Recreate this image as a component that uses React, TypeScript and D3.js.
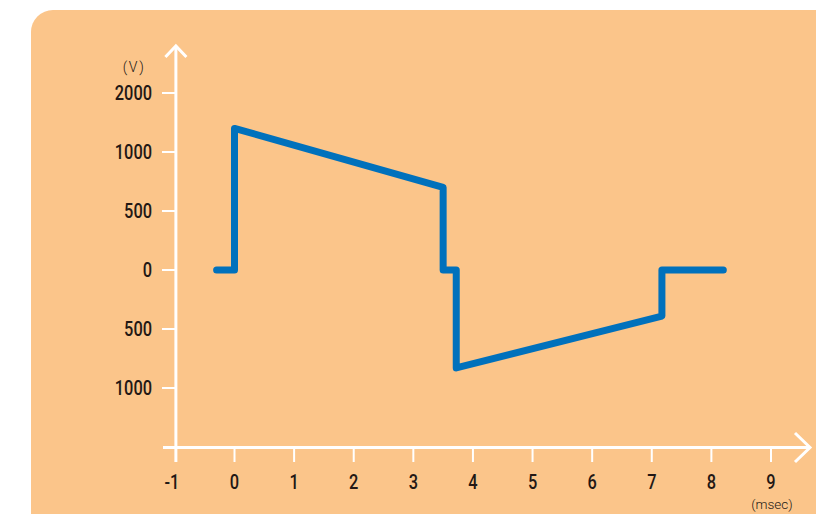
import React from "react";
import * as d3 from "d3";

const yTickValues = [2000, 1000, 500, 0, -500, -1000];
const yTickLabels = ["2000", "1000", "500", "0", "500", "1000"];
const xTickValues = [-1, 0, 1, 2, 3, 4, 5, 6, 7, 8, 9];
const xTickLabels = ["-1", "0", "1", "2", "3", "4", "5", "6", "7", "8", "9"];
const timeMs = [-0.3, 0, 0, 3.5, 3.5, 3.72, 3.72, 7.17, 7.17, 8.2];
const voltage = [0, 0, 1400, 700, 0, 0, -830, -390, 0, 0];

const W = 816;
const H = 514;

export default function App() {
  const x = d3.scaleLinear().domain([0, 9]).range([234.5, 771]);
  // piecewise (non-linear) voltage axis: ticks evenly spaced
  const y = d3
    .scaleLinear()
    .domain(yTickValues)
    .range(yTickValues.map((_, i) => 93 + i * 59));

  const line = d3
    .line<number>()
    .x((_, i) => x(timeMs[i]))
    .y((v) => y(v));

  const axisX = x(-1) + 1;
  const axisY = 447.5;
  const font = "Roboto, 'Noto Sans', sans-serif";
  const sx = 0.84;

  return (
    <svg
      width={W}
      height={H}
      style={{ position: "absolute", left: 0, top: 0 }}
      viewBox={`0 0 ${W} ${H}`}
    >
      <rect x={0} y={0} width={W} height={H} fill="#ffffff" />
      <rect x={31} y={10} width={W} height={H + 40} rx={22} fill="#FBC58A" />

      {/* y axis */}
      <line x1={axisX} x2={axisX} y1={46} y2={462} stroke="#fff" strokeWidth={3} />
      <polyline
        points={`${axisX - 10.5},57 ${axisX},46 ${axisX + 10.5},57`}
        fill="none"
        stroke="#fff"
        strokeWidth={3}
      />
      {yTickValues.map((v, i) => (
        <g key={"yt" + i}>
          <line x1={162} x2={axisX} y1={y(v)} y2={y(v)} stroke="#fff" strokeWidth={2} />
          <text
            transform={`translate(152,${y(v) + 7}) scale(${sx},1)`}
            textAnchor="end"
            fontFamily={font}
            fontWeight={500}
            fontSize={19.5}
            fill="#231815"
          >
            {yTickLabels[i]}
          </text>
        </g>
      ))}
      <text x={134} y={72} textAnchor="middle" fontFamily={font} fontWeight={300} fontSize={14} letterSpacing={1.5} fill="#231815">
        (V)
      </text>

      {/* x axis */}
      <line x1={163} x2={809} y1={axisY} y2={axisY} stroke="#fff" strokeWidth={3} />
      <polyline
        points={`${795},${433} ${810},${axisY} ${795},${462}`}
        fill="none"
        stroke="#fff"
        strokeWidth={3}
      />
      {xTickValues.map((t, i) => (
        <g key={"xt" + i}>
          {t !== -1 && (
            <line x1={x(t)} x2={x(t)} y1={axisY} y2={462} stroke="#fff" strokeWidth={2} />
          )}
          <text
            transform={`translate(${t === -1 ? x(t) - 3 : x(t)},489) scale(${sx},1)`}
            textAnchor="middle"
            fontFamily={font}
            fontWeight={500}
            fontSize={19.5}
            fill="#231815"
          >
            {xTickLabels[i]}
          </text>
        </g>
      ))}
      <text x={772} y={509} textAnchor="middle" fontFamily={font} fontWeight={300} fontSize={13.5} fill="#231815">
        (msec)
      </text>

      <path
        d={line(voltage) || ""}
        fill="none"
        stroke="#0071BC"
        strokeWidth={7}
        strokeLinejoin="round"
        strokeLinecap="round"
      />
    </svg>
  );
}
